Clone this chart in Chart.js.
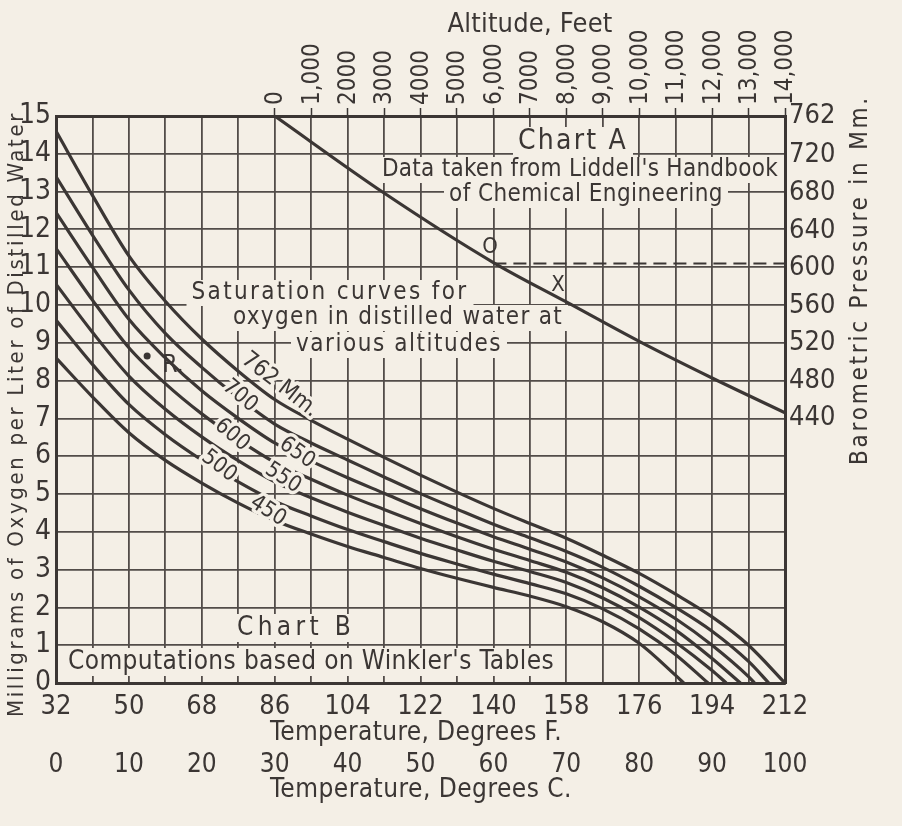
<!DOCTYPE html>
<html>
<head>
<meta charset="utf-8">
<title>Oxygen saturation nomograph</title>
<script src="https://cdn.jsdelivr.net/npm/chart.js@4.4.1/dist/chart.umd.min.js"></script>
<style>
  html, body { margin: 0; padding: 0; background: #f4efe6; }
  #wrap { width: 902px; height: 826px; position: relative; }
</style>
</head>
<body>
<div id="wrap"><canvas id="chart"></canvas></div>
<script>
// ---- axes ----
const gridF = [32, 41, 50, 59, 68, 77, 86, 95, 104, 113, 122, 131, 140, 149, 158, 167, 176, 185, 194, 203, 212];
const labelF = [32, 50, 68, 86, 104, 122, 140, 158, 176, 194, 212];
const labelC = [0, 10, 20, 30, 40, 50, 60, 70, 80, 90, 100];
const oxygenTicks = [0, 1, 2, 3, 4, 5, 6, 7, 8, 9, 10, 11, 12, 13, 14, 15];
const pressureTicks = [440, 480, 520, 560, 600, 640, 680, 720, 762];
const altitudeTicks = [0, 1000, 2000, 3000, 4000, 5000, 6000, 7000, 8000, 9000, 10000, 11000, 12000, 13000, 14000];
const altitudeLabels = ['0', '1,000', '2000', '3000', '4000', '5000', '6,000', '7000', '8,000', '9,000',
                        '10,000', '11,000', '12,000', '13,000', '14,000'];

// ---- Chart B: saturation curves, mg/L at each gridF temperature ----
const curvePressures = [762, 700, 650, 600, 550, 500, 450];
const o2_762 = [14.6, 12.9, 11.3, 10.1, 9.1, 8.25, 7.5, 6.95, 6.45, 5.97, 5.5, 5.05, 4.62, 4.22, 3.83, 3.38, 2.9, 2.35, 1.75, 1.0, 0];
const o2_700 = [13.4, 11.85, 10.4, 9.25, 8.35, 7.55, 6.85, 6.35, 5.9, 5.45, 5.01, 4.6, 4.2, 3.84, 3.48, 3.06, 2.56, 2.0, 1.37, 0.57, null];
const o2_650 = [12.45, 11.0, 9.62, 8.6, 7.73, 7.0, 6.35, 5.87, 5.43, 5.02, 4.61, 4.23, 3.87, 3.54, 3.2, 2.78, 2.28, 1.7, 1.0, 0.17, null];
const o2_600 = [11.5, 10.13, 8.87, 7.92, 7.12, 6.44, 5.84, 5.39, 4.97, 4.59, 4.22, 3.87, 3.54, 3.24, 2.93, 2.52, 2.01, 1.4, 0.65, null, null];
const o2_550 = [10.55, 9.28, 8.12, 7.24, 6.51, 5.88, 5.32, 4.9, 4.52, 4.17, 3.83, 3.52, 3.22, 2.95, 2.66, 2.25, 1.73, 1.08, 0.33, null, null];
const o2_500 = [9.6, 8.43, 7.37, 6.57, 5.9, 5.32, 4.81, 4.42, 4.06, 3.74, 3.43, 3.15, 2.88, 2.63, 2.36, 1.96, 1.43, 0.75, null, null, null];
const o2_450 = [8.6, 7.57, 6.62, 5.89, 5.29, 4.76, 4.3, 3.94, 3.61, 3.32, 3.03, 2.77, 2.53, 2.3, 2.02, 1.62, 1.05, 0.2, null, null, null];
const curveValues = [o2_762, o2_700, o2_650, o2_600, o2_550, o2_500, o2_450];
const boilF = [212, 208, 204.5, 201, 197.5, 193, 187];   // where each curve reaches zero

// ---- Chart A: altitude vs barometric pressure ----
const chartAAltitude = [0, 3000, 6000, 8000, 10000, 12000, 14000];
const chartAPressure = [762, 680, 606, 564, 522, 483, 446];
const dashAltitude = [6000, 14000];
const dashPressure = [605, 605];

// point R
const pointRF = [54.5];
const pointRO = [8.65];

// ---- look ----
const ink = '#3b3634';
const gridInk = '#524c49';
const paper = '#f4efe6';
const fam = '"Liberation Sans Narrow", "DejaVu Sans Condensed", "Liberation Sans", sans-serif';

// free text: [text, x, y, width to fill, font size, angle deg, clear grid behind]
const notes = [
    ['Altitude, Feet', 530, 25, 165, 27, 0, false],
    ['Chart A', 573, 142, 110, 28, 0, true],
    ["Data taken from Liddell's Handbook", 580, 170, 396, 24, 0, true],
    ['of Chemical Engineering', 586, 195, 274, 24, 0, true],
    ['Saturation curves for', 330, 293, 277, 24, 0, true],
    ['oxygen in distilled water at', 398, 318, 330, 24, 0, true],
    ['various altitudes', 399, 345, 206, 24, 0, true],
    ['Chart B', 296, 628, 118, 26, 0, true],
    ["Computations based on Winkler's Tables", 311, 662, 486, 26, 0, true],
    ['Temperature, Degrees F.', 416, 733, 292, 26, 0, false],
    ['Temperature, Degrees C.', 421, 790, 302, 26, 0, false],
    ['Milligrams of Oxygen per Liter of Distilled Water', 17, 414, 606, 22, -90, false],
    ['Barometric Pressure in Mm.', 861, 280, 370, 24, -90, false],
    ['O', 490, 247, 0, 22, 0, false],
    ['X', 558, 285, 0, 22, 0, false],
    ['R.', 173, 366, 0, 24, 0, false]
];
// curve labels: [text, x, y, font size, angle deg]
const curveLabels = [
    ['762 Mm.', 280, 385, 23, 38],
    ['700', 240, 396, 22, 40],
    ['650', 297, 453, 22, 35],
    ['600', 232, 435, 22, 40],
    ['550', 283, 478, 22, 33],
    ['500', 219, 466, 22, 38],
    ['450', 268, 511, 22, 33]
];

function drawFitted(ctx, text, x, y, width, size, angle) {
    ctx.save();
    ctx.translate(x, y);
    if (angle) ctx.rotate(angle * Math.PI / 180);
    ctx.font = size + 'px ' + fam;
    ctx.textAlign = 'center';
    ctx.textBaseline = 'middle';
    const w = ctx.measureText(text).width;
    if (width && text.length > 1) {
        if ('letterSpacing' in ctx) {
            ctx.letterSpacing = ((width - w) / text.length).toFixed(2) + 'px';
        } else {
            ctx.scale(width / w, 1);
        }
    }
    ctx.fillStyle = ink;
    ctx.fillText(text, 0, 0);
    ctx.restore();
}

const paperPlugin = {
    id: 'paper',
    beforeDraw(chart) {
        const ctx = chart.ctx;
        ctx.save();
        ctx.fillStyle = paper;
        ctx.fillRect(0, 0, chart.width, chart.height);
        ctx.restore();
    },
    beforeDatasetsDraw(chart) {
        // blank out the grid behind the lettering
        const ctx = chart.ctx;
        ctx.save();
        ctx.fillStyle = paper;
        notes.forEach(n => {
            if (!n[6]) return;
            const h = n[4] + 2;
            ctx.fillRect(n[1] - n[3] / 2 - 5, n[2] - h / 2, n[3] + 10, h);
        });
        ctx.restore();
    },
    afterDatasetsDraw(chart) {
        const ctx = chart.ctx;
        curveLabels.forEach(l => {
            ctx.save();
            ctx.translate(l[1], l[2]);
            ctx.rotate(l[4] * Math.PI / 180);
            ctx.font = l[3] + 'px ' + fam;
            ctx.textAlign = 'center';
            ctx.textBaseline = 'middle';
            ctx.lineJoin = 'round';
            ctx.strokeStyle = paper;
            ctx.lineWidth = 7;
            ctx.strokeText(l[0], 0, 0);
            ctx.fillStyle = ink;
            ctx.fillText(l[0], 0, 0);
            ctx.restore();
        });
        notes.forEach(n => drawFitted(ctx, n[0], n[1], n[2], n[3], n[4], n[5]));
    }
};

function curveData(values, boil) {
    const pts = [];
    values.forEach((v, i) => { if (v !== null) pts.push({ x: gridF[i], y: v }); });
    if (boil > pts[pts.length - 1].x) pts.push({ x: boil, y: 0 });
    return pts;
}

const datasets = curvePressures.map((p, k) => ({
    label: p + ' Mm.',
    data: curveData(curveValues[k], boilF[k]),
    xAxisID: 'x', yAxisID: 'y',
    showLine: true,
    borderColor: ink, borderWidth: 3.2,
    pointRadius: 0,
    cubicInterpolationMode: 'monotone'
}));
datasets.push({
    label: 'Chart A',
    data: chartAAltitude.map((a, i) => ({ x: a, y: chartAPressure[i] })),
    xAxisID: 'alt', yAxisID: 'p',
    showLine: true,
    borderColor: ink, borderWidth: 3.2,
    pointRadius: 0,
    cubicInterpolationMode: 'monotone'
});
datasets.push({
    label: 'O level',
    data: dashAltitude.map((a, i) => ({ x: a, y: dashPressure[i] })),
    xAxisID: 'alt', yAxisID: 'p',
    showLine: true,
    borderColor: ink, borderWidth: 2, borderDash: [13, 7],
    pointRadius: 0
});
datasets.push({
    label: 'R',
    data: pointRF.map((t, i) => ({ x: t, y: pointRO[i] })),
    xAxisID: 'x', yAxisID: 'y',
    showLine: false,
    pointRadius: 3.5, pointBackgroundColor: ink, pointBorderWidth: 0
});

const tickFont = size => ({ family: fam, size: size });

new Chart(document.getElementById('chart'), {
    type: 'scatter',
    data: { datasets: datasets },
    options: {
        responsive: true,
        maintainAspectRatio: false,
        animation: false,
        events: [],
        layout: { padding: 0 },
        plugins: { legend: { display: false }, tooltip: { enabled: false } },
        scales: {
            x: {
                type: 'linear', position: 'bottom', min: 32, max: 212, weight: 0,
                afterBuildTicks: s => { s.ticks = gridF.map(v => ({ value: v })); },
                afterFit: s => { s.height = 62; },
                ticks: {
                    autoSkip: false, maxRotation: 0, padding: 8, color: ink, font: tickFont(27),
                    callback: v => labelF.includes(v) ? String(v) : ''
                },
                grid: { color: gridInk, lineWidth: 1.8, drawTicks: false },
                border: { color: ink, width: 3 }
            },
            xc: {
                type: 'linear', position: 'bottom', min: 0, max: 100, weight: 1,
                afterBuildTicks: s => { s.ticks = labelC.map(v => ({ value: v })); },
                afterFit: s => { s.height = 81; },
                ticks: { autoSkip: false, maxRotation: 0, padding: 5, color: ink, font: tickFont(26) },
                grid: { drawOnChartArea: false, drawTicks: false },
                border: { display: false }
            },
            alt: {
                type: 'linear', position: 'top', min: -6000, max: 14000,
                afterBuildTicks: s => { s.ticks = altitudeTicks.map(v => ({ value: v })); },
                afterFit: s => { s.height = 116; },
                ticks: {
                    autoSkip: false, minRotation: 90, maxRotation: 90, padding: 3, labelOffset: 30,
                    color: ink, font: tickFont(24),
                    callback: (v, i) => altitudeLabels[i]
                },
                grid: { drawOnChartArea: false, drawTicks: true, tickLength: 8, tickWidth: 1.5, tickColor: ink },
                border: { color: ink, width: 3 }
            },
            y: {
                type: 'linear', position: 'left', min: 0, max: 15,
                afterBuildTicks: s => { s.ticks = oxygenTicks.map(v => ({ value: v })); },
                afterFit: s => { s.width = 56; },
                ticks: { padding: 5, color: ink, font: tickFont(28) },
                grid: { color: gridInk, lineWidth: 1.8, drawTicks: false },
                border: { color: ink, width: 3 }
            },
            p: {
                type: 'linear', position: 'right', min: 158.25, max: 762,
                afterBuildTicks: s => { s.ticks = pressureTicks.map(v => ({ value: v })); },
                afterFit: s => { s.width = 117; },
                ticks: { padding: 4, color: ink, font: tickFont(27) },
                grid: { drawOnChartArea: false, drawTicks: false },
                border: { color: ink, width: 3 }
            }
        }
    },
    plugins: [paperPlugin]
});
</script>
</body>
</html>
